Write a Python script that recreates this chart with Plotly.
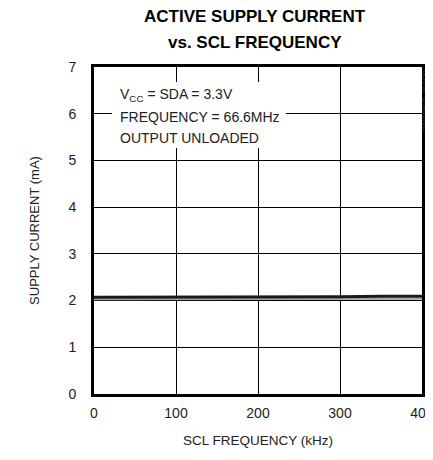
import plotly.graph_objects as go

freq_khz = [0, 50, 100, 150, 200, 250, 300, 350, 400]
current_ma_a = [2.07, 2.07, 2.07, 2.08, 2.08, 2.08, 2.08, 2.09, 2.09]
current_ma_b = [2.03, 2.03, 2.03, 2.03, 2.03, 2.03, 2.03, 2.04, 2.04]
x_ticks = [0, 100, 200, 300, 400]
y_ticks = [0, 1, 2, 3, 4, 5, 6, 7]
note_lines = ["V<sub>CC</sub> = SDA = 3.3V", "FREQUENCY = 66.6MHz", "OUTPUT UNLOADED"]

FONT = "Liberation Sans, Arial, sans-serif"

W, H = 425, 444
L, R, T, B = 86, 11, 59, 58
PW, PH = W - L - R, H - T - B


def px(xf):
    return (xf - L) / PW


def py(yf):
    return 1 - (yf - T) / PH


fig = go.Figure()
fig.add_trace(go.Scatter(x=freq_khz, y=current_ma_b, mode="lines",
                         line=dict(color="#a0a0a0", width=2), showlegend=False))
fig.add_trace(go.Scatter(x=freq_khz, y=current_ma_a, mode="lines",
                         line=dict(color="#1a1a1a", width=3), showlegend=False))

fig.update_layout(
    width=W, height=H,
    margin=dict(l=L, r=R, t=T, b=B, autoexpand=False),
    paper_bgcolor="white", plot_bgcolor="white",
    font=dict(family=FONT, size=14, color="#222"),
    xaxis=dict(range=[0, 400], tickvals=x_ticks, showgrid=True, gridcolor="black",
               gridwidth=1, showline=True, linecolor="black", linewidth=3, mirror=True,
               zeroline=False, ticks="", ticklabelstandoff=4, automargin=False,
               ticklabeloverflow="allow",
               tickfont=dict(family=FONT, size=14, color="#222"),
               title=dict(text="SCL FREQUENCY (kHz)", standoff=16,
                          font=dict(family=FONT, size=13.5, color="#222"))),
    yaxis=dict(range=[0, 7], tickvals=y_ticks, showgrid=True, gridcolor="black",
               gridwidth=1, showline=True, linecolor="black", linewidth=3, mirror=True,
               zeroline=False, ticks="", ticklabelstandoff=12, automargin=False,
               ticklabeloverflow="allow",
               tickfont=dict(family=FONT, size=14, color="#222"),
               title=dict(text="SUPPLY CURRENT (mA)", standoff=26,
                          font=dict(family=FONT, size=13, color="#222"))),
)

title_x = px(247)
fig.add_annotation(xref="paper", yref="paper", x=title_x, y=1, xanchor="center",
                   yanchor="middle", yshift=51, showarrow=False,
                   text="<b>ACTIVE SUPPLY CURRENT</b>",
                   font=dict(family=FONT, size=17, color="black"))
fig.add_annotation(xref="paper", yref="paper", x=title_x, y=1, xanchor="center",
                   yanchor="middle", yshift=25, showarrow=False,
                   text="<b>vs. SCL FREQUENCY</b>",
                   font=dict(family=FONT, size=17, color="black"))

# white box behind the note
fig.add_shape(type="rect", xref="paper", yref="paper",
              x0=px(104), x1=px(278), y0=py(140), y1=py(74),
              fillcolor="white", line=dict(width=0), layer="above")
for line, yc in zip(note_lines, [87, 109, 130]):
    fig.add_annotation(xref="paper", yref="paper", x=px(110), y=py(yc),
                       xanchor="left", yanchor="middle", showarrow=False,
                       text=line, font=dict(family=FONT, size=14, color="#222"))

fig.add_annotation(
    xref="paper", yref="paper", x=1.0, y=1.0, xanchor="center", yanchor="top",
    xshift=3, yshift=-1, text="DS1087L toc09", textangle=-90, showarrow=False,
    font=dict(family=FONT, size=9, color="#333"),
)

fig.write_html("out.html")
